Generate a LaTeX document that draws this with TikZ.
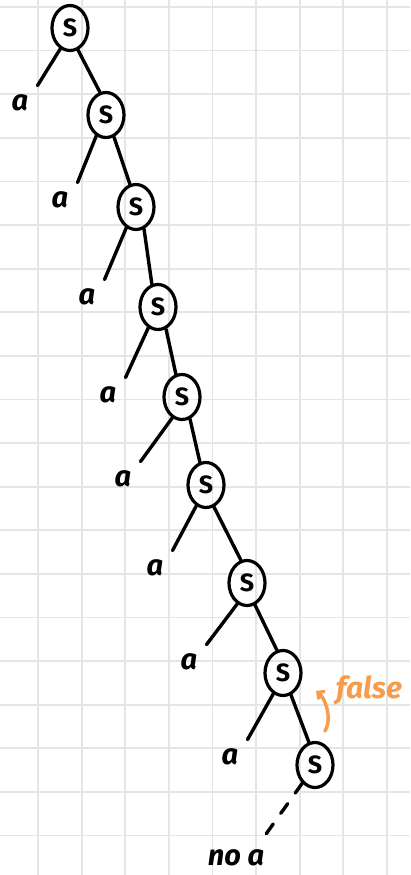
\documentclass[tikz,border=0pt]{standalone}
\usepackage{fontspec}
\setmainfont{Fira Sans}
\usetikzlibrary{arrows.meta,shapes.geometric}
\definecolor{gridgray}{RGB}{229,229,229}
\definecolor{penorange}{RGB}{247,156,76}
\tikzset{
  snode/.style={ellipse, draw, line width=3.2pt, inner sep=0pt,
               minimum width=36pt, minimum height=45pt,
               font=\bfseries\fontsize{25}{25}\selectfont},
  albl/.style={inner sep=9pt, font=\bfseries\itshape\fontsize{29}{29}\selectfont},
  flbl/.style={inner sep=2pt, text=penorange,
               font=\bfseries\itshape\fontsize{30}{30}\selectfont},
  branch/.style={line width=3.4pt, line cap=round},
  gridln/.style={line width=1.8pt, gridgray},
  note/.style={-{Straight Barb[length=5pt, width=10pt]}, line width=3.4pt,
               line cap=round, penorange}
}

\begin{document}
\begin{tikzpicture}[x=1pt, y=-1pt]
\useasboundingbox (0,0) rectangle (410,875);
% grid paper
\foreach \gx in {38,81.6,...,390} \draw[gridln] (\gx,0) -- (\gx,875);
\foreach \gy in {7,50.6,...,870} \draw[gridln] (0,\gy) -- (410,\gy);
% S nodes
\node[snode] (s1) at (70,28) {S};
\node[snode] (s2) at (106,115) {S};
\node[snode] (s3) at (136,207) {S};
\node[snode] (s4) at (158,307) {S};
\node[snode] (s5) at (182,397) {S};
\node[snode] (s6) at (206,485) {S};
\node[snode] (s7) at (247,583) {S};
\node[snode] (s8) at (283,673) {S};
\node[snode] (s9) at (315,765) {S};
% leaves
\node[albl] (a1) at (20,103) {a};
\node[albl] (a2) at (60,200) {a};
\node[albl] (a3) at (87,297) {a};
\node[albl] (a4) at (108,395) {a};
\node[albl] (a5) at (123,479) {a};
\node[albl] (a6) at (155,568) {a};
\node[albl] (a7) at (189,662) {a};
\node[albl] (a8) at (230,757) {a};
\node[albl] (noa) at (236,858) {no a};
\node[flbl] (false) at (369,690) {false};
\coordinate (fstart) at (325,731);
\coordinate (ftip) at (316,691);
% branches
\draw[branch] (s1.245) -- (a1.north east);
\draw[branch] (s1.290) -- (s2.105);
\draw[branch] (s2.245) -- (a2.north east);
\draw[branch] (s2.290) -- (s3.105);
\draw[branch] (s3.245) -- (a3.north east);
\draw[branch] (s3.290) -- (s4.105);
\draw[branch] (s4.245) -- (a4.north east);
\draw[branch] (s4.290) -- (s5.105);
\draw[branch] (s5.245) -- (a5.north east);
\draw[branch] (s5.290) -- (s6.105);
\draw[branch] (s6.245) -- (a6.north east);
\draw[branch] (s6.290) -- (s7.105);
\draw[branch] (s7.245) -- (a7.north east);
\draw[branch] (s7.290) -- (s8.105);
\draw[branch] (s8.245) -- (a8.north east);
\draw[branch] (s8.290) -- (s9.105);
\draw[branch, dash pattern=on 12pt off 13pt] (s9.235) -- ([xshift=-12pt]noa.north east);
\draw[note] (fstart) .. controls +(8,-14) and +(8,6) .. (ftip);
\end{tikzpicture}
\end{document}
